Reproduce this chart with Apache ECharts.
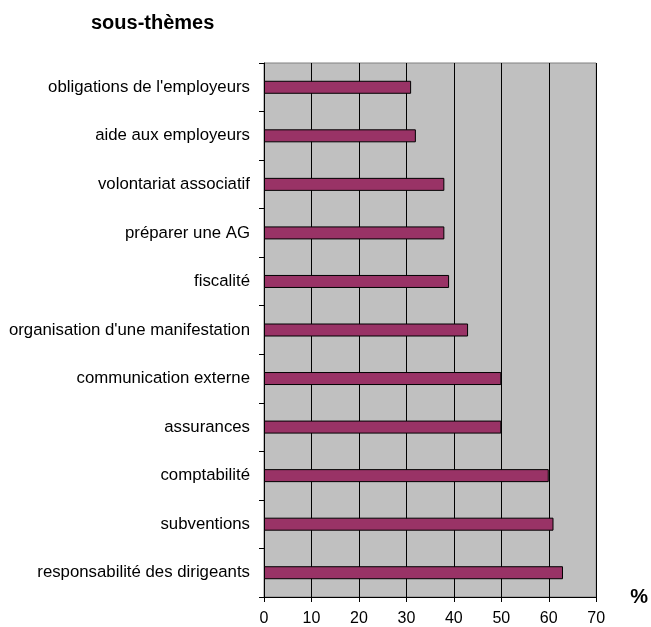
<!DOCTYPE html>
<html>
<head>
<meta charset="utf-8">
<title>sous-thèmes</title>
<script src="https://cdn.jsdelivr.net/npm/echarts@6/dist/echarts.min.js"></script>
<style>
    html, body { margin: 0; padding: 0; background: #fff; }
    #chart { width: 651px; height: 627px; }
</style>
</head>
<body>
<div id="chart"></div>
<script>
// catégories (de haut en bas)
const categories = [
    "obligations de l'employeurs",
    'aide aux employeurs',
    'volontariat associatif',
    'préparer une AG',
    'fiscalité',
    "organisation d'une manifestation",
    'communication externe',
    'assurances',
    'comptabilité',
    'subventions',
    'responsabilité des dirigeants'
]
// valeurs en %
const values = [31, 32, 38, 38, 39, 43, 50, 50, 60, 61, 63]
// graduations de l'axe x
const xTicks = [0, 10, 20, 30, 40, 50, 60, 70]

const font = 'Liberation Sans, Arial, sans-serif'
const chart = echarts.init(document.getElementById('chart'))

const option = {
    animation: false,
    backgroundColor: '#fff',
    title: {
        text: 'sous-thèmes',
        left: 86,
        top: 8,
        textStyle: { fontFamily: font, fontSize: 20, fontWeight: 'bold', color: '#000' }
    },
    grid: {
        left: 264,
        right: 52,
        top: 63,
        bottom: 30,
        show: true,
        backgroundColor: '#c0c0c0',
        borderColor: '#808080',
        borderWidth: 1
    },
    xAxis: {
        type: 'value',
        min: xTicks[0],
        max: xTicks[xTicks.length - 1],
        interval: 10,
        name: '%',
        nameLocation: 'end',
        nameGap: 34,
        nameTextStyle: { fontFamily: font, fontSize: 20, fontWeight: 'bold', color: '#000', verticalAlign: 'middle' },
        axisLine: { show: true, lineStyle: { color: '#000', width: 1 } },
        axisTick: { show: true, length: 5, lineStyle: { color: '#000' } },
        axisLabel: { margin: 14, fontFamily: font, fontSize: 16, color: '#000' },
        splitLine: { show: true, lineStyle: { color: '#000', width: 1 } }
    },
    yAxis: {
        type: 'category',
        data: categories,
        inverse: true,
        axisLine: { show: true, lineStyle: { color: '#000', width: 1 } },
        axisTick: { show: true, length: 5, alignWithLabel: false, lineStyle: { color: '#000' } },
        axisLabel: { margin: 14, fontFamily: font, fontSize: 16.8, color: '#000' },
        splitLine: { show: false }
    },
    series: [{
        type: 'bar',
        data: values,
        barWidth: 13,
        itemStyle: { color: '#993366', borderColor: '#000', borderWidth: 1 }
    }]
}
chart.setOption(option)
</script>
</body>
</html>
